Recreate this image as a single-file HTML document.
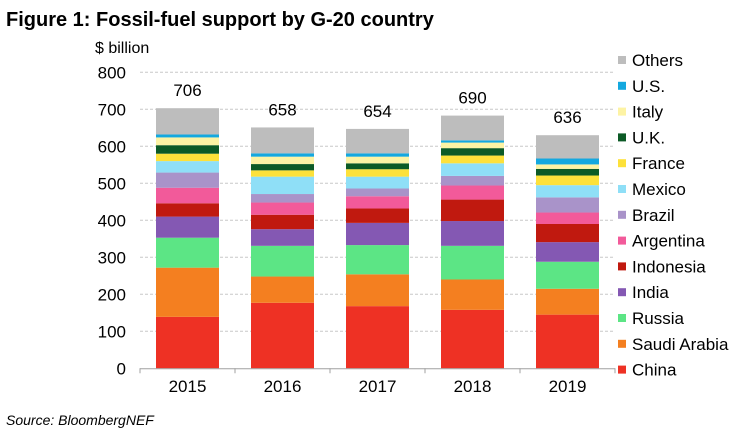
<!DOCTYPE html>
<html><head><meta charset="utf-8"><style>
body{margin:0;background:#fff;width:750px;height:438px;overflow:hidden;font-family:"Liberation Sans",sans-serif}
</style></head><body>
<svg width="750" height="438" xmlns="http://www.w3.org/2000/svg">
<text x="6" y="26" font-family="Liberation Sans" font-weight="bold" font-size="20" fill="#000">Figure 1: Fossil-fuel support by G-20 country</text>
<text x="95" y="53" font-size="16" fill="#000">$ billion</text>
<text x="6" y="425" font-size="14" font-style="italic" fill="#000">Source: BloombergNEF</text>
<g id="grid"></g><g id="bars"></g><g id="axes"></g><g id="legend"></g>
</svg>
<script>
const years=["2015","2016","2017","2018","2019"];
const totals=[706,658,654,690,636];
const series=["China","Saudi Arabia","Russia","India","Indonesia","Argentina","Brazil","Mexico","France","U.K.","Italy","U.S.","Others"];
const colors=["#ee3124","#f47f20","#5ce585","#8458b3","#c0190f","#f25a9a","#a993c9","#8fdff7","#fde13a","#0c5a26","#fdf3a4","#14a8df","#bdbdbd"];
const china=[139,177,168,158,145];
const saudi=[133,71,86,82,70];
const russia=[81,83,79,91,73];
const india=[57,45,60,67,53];
const indonesia=[36,39,39,58,49];
const argentina=[42,33,33,38,31];
const brazil=[41,23,21,26,41];
const mexico=[31,47,32,34,33];
const france=[20,17,20,21,26];
const uk=[23,17,16,20,18];
const italy=[21,20,18,15,12];
const us=[8,9,9,6,16];
const others=[71,70,66,67,63];
const yTicks=[0,100,200,300,400,500,600,700,800];
const values=[china,saudi,russia,india,indonesia,argentina,brazil,mexico,france,uk,italy,us,others];
const NS="http://www.w3.org/2000/svg";
const x0=140,x1=615,y0=368.3,yTop=72.3,vMax=800;
const bw=(x1-x0)/years.length,barW=63;
function y(v){return y0-(v/vMax)*(y0-yTop);}
function cx(i){return x0+bw*(i+0.5);}
function mk(t,a,p){const e=document.createElementNS(NS,t);for(const k in a)e.setAttribute(k,a[k]);p.appendChild(e);return e;}
const G=document.getElementById('grid'),B=document.getElementById('bars'),A=document.getElementById('axes'),L=document.getElementById('legend');
yTicks.forEach(t=>{
 if(t>0){const l=mk('line',{x1:x0,x2:x1,y1:y(t),y2:y(t),stroke:'#c8c8c8','stroke-dasharray':'3,2','stroke-width':1},G);
 
 }
 const tx=mk('text',{x:126,y:y(t)+6,'text-anchor':'end','font-size':17,fill:'#000'},A);tx.textContent=t;
 
 
});
years.forEach((yr,i)=>{
 let cum=0;
 values.forEach((s,j)=>{
  const r=mk('rect',{x:cx(i)-barW/2,y:y(cum+s[i]),width:barW,height:y(cum)-y(cum+s[i]),fill:colors[j]},B);
  
  
  cum+=s[i];
 });
 const tl=mk('text',{x:cx(i),y:y(cum)-12,'text-anchor':'middle','font-size':17,fill:'#000'},B);tl.textContent=totals[i];
 
 
 const xl=mk('text',{x:cx(i),y:392,'text-anchor':'middle','font-size':17,fill:'#000'},A);xl.textContent=yr;
 
 
});
const ax=mk('line',{x1:x0,x2:x1,y1:y0+0.5,y2:y0+0.5,stroke:'#a0a0a0','stroke-width':1},A);


for(let i=0;i<=years.length;i++){const tk=mk('line',{x1:x0+bw*i,x2:x0+bw*i,y1:y0,y2:y0+5,stroke:'#a0a0a0'},A);
 
 }
for(let j=series.length-1;j>=0;j--){
 const k=series.length-1-j, yy=60+k*25.8;
 const g=mk('g',{},L);
 
 
 mk('rect',{x:618,y:yy-4,width:8,height:8,fill:colors[j]},g);
 const t=mk('text',{x:632,y:yy+6,'font-size':17,fill:'#000'},g);t.textContent=series[j];
}
</script>
</body></html>
